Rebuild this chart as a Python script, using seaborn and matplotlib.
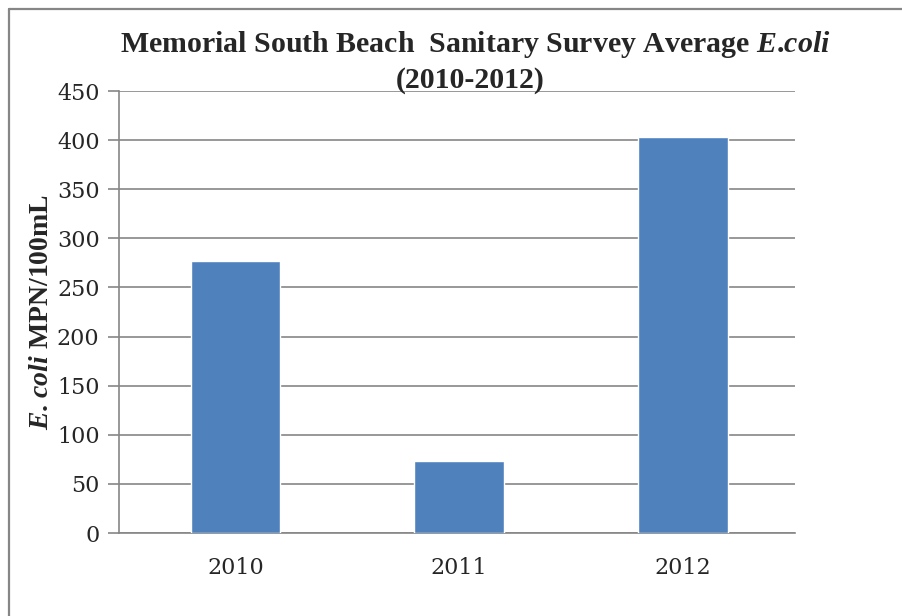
import matplotlib
matplotlib.use("Agg")
import matplotlib.pyplot as plt
import seaborn as sns
import pandas as pd
from matplotlib.lines import Line2D

years = ["2010", "2011", "2012"]
ecoli = [277, 73, 403]
yticks = [0, 50, 100, 150, 200, 250, 300, 350, 400, 450]

df = pd.DataFrame({"year": years, "ecoli": ecoli})

sns.set_style("white")
plt.rcParams["mathtext.fontset"] = "custom"
plt.rcParams["mathtext.it"] = "Liberation Serif:italic:bold"
plt.rcParams["mathtext.rm"] = "Liberation Serif:bold"

fig = plt.figure(figsize=(9.02, 6.16), dpi=100)
ax = fig.add_axes([0.1319, 0.1347, 0.7495, 0.7175])

sns.barplot(data=df, x="year", y="ecoli", color="#4F81BD", width=0.4,
            saturation=1, ax=ax, zorder=3)

ax.set_xlim(-0.52, 2.5)
ax.set_ylim(0, 450)
ax.set_yticks(yticks)
ax.grid(axis="y", color="#868686", linewidth=1.2, zorder=0)
ax.set_axisbelow(True)
for s in ["top", "right"]:
    ax.spines[s].set_visible(False)
for s in ["left", "bottom"]:
    ax.spines[s].set_color("#868686")
    ax.spines[s].set_linewidth(1.2)

ax.tick_params(axis="y", length=8, width=1.2, color="#868686", pad=6, left=True)
ax.tick_params(axis="x", length=0, pad=17)
for lab in ax.get_yticklabels() + ax.get_xticklabels():
    lab.set_fontfamily("DejaVu Serif")
    lab.set_fontsize(16)

ax.set_xlabel("")
ax.set_ylabel(r"$\mathit{E}$. $\mathit{coli}$ MPN/100mL", fontfamily="Liberation Serif",
              fontweight="bold", fontsize=20, labelpad=2)

fig.text(0.527, 0.927, r"Memorial South Beach  Sanitary Survey Average $\mathit{E}$.$\mathit{coli}$",
         ha="center", va="center", fontfamily="Liberation Serif",
         fontweight="bold", fontsize=21.5)
fig.text(0.521, 0.870, "(2010-2012)", ha="center", va="center",
         fontfamily="Liberation Serif", fontweight="bold", fontsize=21.5)

# frame lines (left and top only)
fig.lines.append(Line2D([8.5 / 902, 8.5 / 902], [0, 1 - 9 / 616],
                        transform=fig.transFigure, color="#868686", linewidth=1.6))
fig.lines.append(Line2D([8.5 / 902, 1], [1 - 9 / 616, 1 - 9 / 616],
                        transform=fig.transFigure, color="#868686", linewidth=1.6))

fig.savefig("out.png", dpi=100)
